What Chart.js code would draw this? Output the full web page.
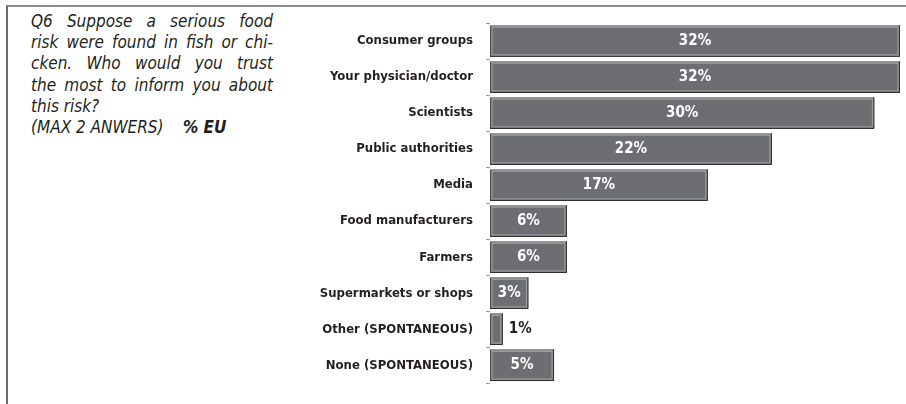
<!DOCTYPE html>
<html><head><meta charset="utf-8">
<script src="https://cdn.jsdelivr.net/npm/chart.js@4/dist/chart.umd.min.js"></script>
<style>
html,body{margin:0;padding:0;background:#fff;}
#wrap{position:relative;width:906px;height:404px;overflow:hidden;}
#frame{position:absolute;left:6px;top:5px;width:900px;height:410px;border-top:2px solid #8a8a8a;border-left:2px solid #6a6a6a;box-sizing:border-box;}
#q{position:absolute;left:31px;top:11px;width:242px;font-family:"DejaVu Sans Condensed",sans-serif;font-style:italic;font-size:17px;line-height:21.2px;color:#231f20;}
#q .j{text-align:justify;text-align-last:justify;white-space:nowrap;}
#q .l{text-align:left;white-space:nowrap;}
canvas{position:absolute;left:0;top:0;}
</style></head>
<body><div id="wrap">
<div id="frame"></div>
<div id="q"><div class="j">Q6 Suppose a serious food</div><div class="j">risk were found in fish or chi-</div><div class="j">cken. Who would you trust</div><div class="j">the most to inform you about</div><div class="l">this risk?</div><div class="l">(MAX 2 ANWERS)&nbsp;&nbsp;&nbsp;&nbsp;<b>% EU</b></div></div>
<canvas id="c" width="906" height="404"></canvas>
</div>
<script>
const categories = ["Consumer groups","Your physician/doctor","Scientists","Public authorities","Media","Food manufacturers","Farmers","Supermarkets or shops","Other (SPONTANEOUS)","None (SPONTANEOUS)"];
const values = [32,32,30,22,17,6,6,3,1,5];
const FONT = '"DejaVu Sans Condensed",sans-serif';

const bevel = {
  id:'bevel',
  afterDatasetsDraw(chart){
    const ctx = chart.ctx;
    const meta = chart.getDatasetMeta(0);
    ctx.save();
    meta.data.forEach((bar,i)=>{
      const h = bar.height;
      const top = bar.y - h/2, left = bar.base, right = bar.x;
      ctx.strokeStyle = '#a3a4a6';
      ctx.lineWidth = 1;
      ctx.strokeRect(left+2, top+2, right-left-4, h-4);
      ctx.strokeStyle = '#2e2e30';
      ctx.beginPath();
      ctx.moveTo(right-0.5, top); ctx.lineTo(right-0.5, top+h-0.5); ctx.lineTo(left, top+h-0.5);
      ctx.stroke();
      const v = values[i];
      ctx.font = 'bold 15px ' + FONT;
      ctx.textBaseline = 'middle';
      if (v <= 1) {
        ctx.fillStyle = '#231f20';
        ctx.textAlign = 'left';
        ctx.fillText(v + '%', right + 6, bar.y);
      } else {
        ctx.fillStyle = '#ffffff';
        ctx.textAlign = 'center';
        ctx.fillText(v + '%', (left + right)/2, bar.y);
      }
    });
    ctx.restore();
  }
};

new Chart(document.getElementById('c'), {
  type:'bar',
  data:{labels:categories, datasets:[{data:values, backgroundColor:'#6d6e71', borderColor:'#4a4a4c', borderWidth:1, borderSkipped:false, categoryPercentage:0.88, barPercentage:1}]},
  options:{
    indexAxis:'y', responsive:false, animation:false,
    layout:{padding:{top:23,right:6,bottom:8,left:0}},
    plugins:{legend:{display:false}, tooltip:{enabled:false}, title:{display:false}},
    scales:{
      x:{display:false, min:0, max:32},
      y:{
        afterFit(s){ s.width = 490; },
        border:{display:false},
        grid:{drawOnChartArea:false, tickLength:4, color:'#9a9a9a', offset:true},
        ticks:{color:'#231f20', padding:13, font:{family:FONT, size:13, weight:'bold'}}
      }
    }
  },
  plugins:[bevel]
});
</script>
</body></html>
